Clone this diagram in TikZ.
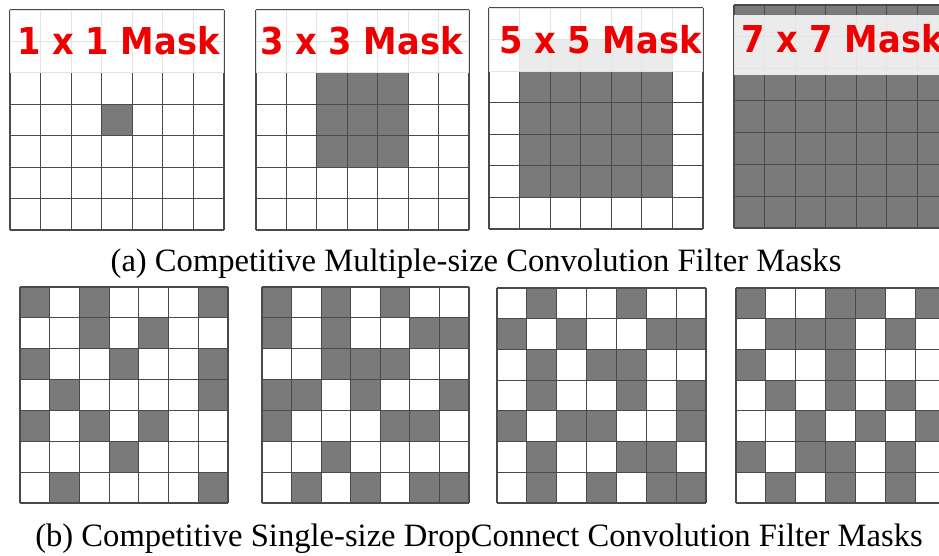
\documentclass[tikz,border=0pt]{standalone}
\usepackage{fontspec}
\setmainfont{Liberation Serif}
\newfontfamily\labelfont{DejaVu Sans}[FakeStretch=0.91]
\definecolor{cellgray}{HTML}{7A7A7A}
\definecolor{linegray}{HTML}{4A4A4A}
\definecolor{maskred}{HTML}{EE0000}
\tikzset{
  gridline/.style={draw=linegray, line width=1.2pt},
  darkcell/.style={fill=cellgray},
  textband/.style={fill=white, fill opacity=0.85},
  masklabel/.style={anchor=base west, inner sep=0pt, text=maskred,
    font=\labelfont\bfseries\fontsize{37}{42}\selectfont},
  caption/.style={anchor=base, inner sep=0pt,
    font=\fontsize{32.6}{36}\selectfont}
}
% 7x7 mask grid: left, top, right, bottom, list of dark cells (column/row)
\newcommand\maskgrid[5]{%
  \pgfmathsetmacro\cw{(#3-#1)/7}%
  \pgfmathsetmacro\ch{(#4-#2)/7}%
  \foreach \c/\r in {#5}{%
    \fill[darkcell] ({#1+(\c-1)*\cw},{#2+(\r-1)*\ch}) rectangle ++(\cw,\ch);
  }%
  \foreach \i in {0,...,7}{%
    \draw[gridline] ({#1+\i*\cw},#2) -- ({#1+\i*\cw},#4);
    \draw[gridline] (#1,{#2+\i*\ch}) -- (#3,{#2+\i*\ch});
  }%
}
\begin{document}
\begin{tikzpicture}[x=1pt,y=-1pt]
\clip (0,0) rectangle (939,556);
\fill[white] (0,0) rectangle (939,556);

% (a) multiple-size masks
\maskgrid{10}{10}{224}{230}{4/4}
\maskgrid{256}{10}{469}{230}{3/3,4/3,5/3,3/4,4/4,5/4,3/5,4/5,5/5}
\maskgrid{489}{8}{703}{229}{2/2,3/2,4/2,5/2,6/2,2/3,3/3,4/3,5/3,6/3,
  2/4,3/4,4/4,5/4,6/4,2/5,3/5,4/5,5/5,6/5,2/6,3/6,4/6,5/6,6/6}
\fill[darkcell] (734,5) rectangle (948,228);
\maskgrid{734}{5}{948}{228}{1/1}

% translucent bands behind the mask names
\fill[textband] (10,10) rectangle (224,73);
\fill[textband] (256,10) rectangle (469,73);
\fill[textband] (489,8) rectangle (703,72);
\fill[textband] (734,15) rectangle (948,75);

\node[masklabel] (m1) at (17,55) {1 x 1 Mask};
\node[masklabel] (m3) at (260,55) {3 x 3 Mask};
\node[masklabel] (m5) at (499,54) {5 x 5 Mask};
\node[masklabel] (m7) at (741,53) {7 x 7 Mask};

\node[caption] (capa) at (476,271) {(a) Competitive Multiple-size Convolution Filter Masks};

% (b) single-size DropConnect masks
\maskgrid{20}{287}{228}{503}{1/1,3/1,7/1, 3/2,5/2, 1/3,4/3,7/3, 2/4,7/4,
  1/5,3/5,5/5, 4/6, 2/7,7/7}
\maskgrid{262}{287}{469}{503}{1/1,3/1,5/1, 1/2,3/2,6/2,7/2, 3/3,4/3,5/3,
  1/4,2/4,4/4,7/4, 1/5,5/5,6/5, 3/6, 2/7,4/7,6/7,7/7}
\maskgrid{497}{288}{706}{503}{2/1,5/1, 1/2,3/2,6/2,7/2, 2/3,4/3,5/3,
  2/4,5/4,7/4, 1/5,3/5,4/5,7/5, 2/6,5/6,6/6, 2/7,4/7,6/7,7/7}
\maskgrid{736}{288}{945}{503}{1/1,4/1,5/1,7/1, 2/2,3/2,4/2,6/2, 1/3,4/3,
  2/4,4/4,6/4, 3/5,5/5,7/5, 1/6,3/6,4/6,6/6, 2/7,4/7,6/7}

\node[caption] (capb) at (479,546) {(b) Competitive Single-size DropConnect Convolution Filter Masks};
\end{tikzpicture}
\end{document}
